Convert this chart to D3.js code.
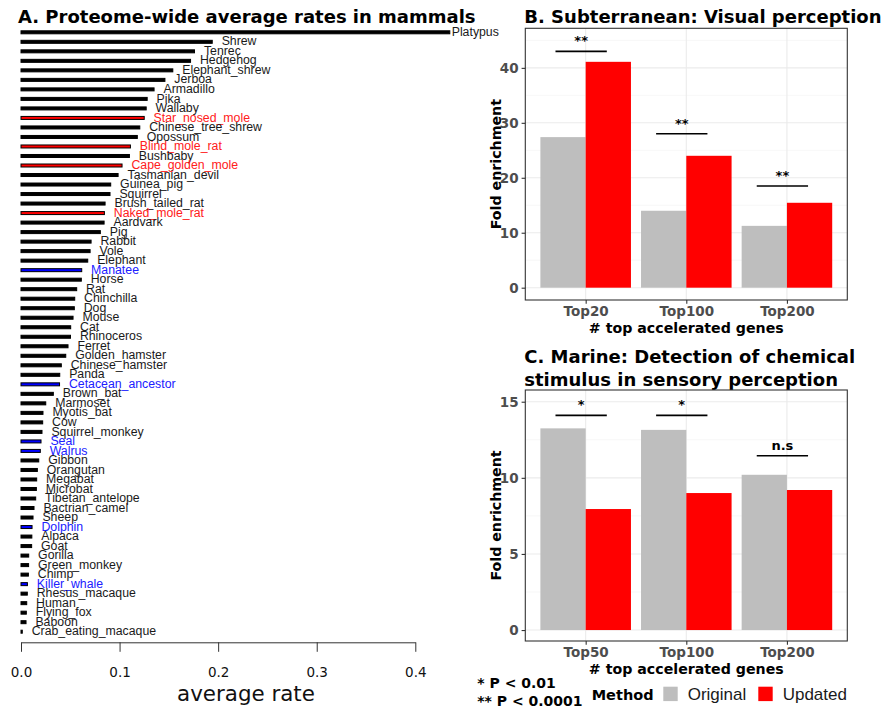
<!DOCTYPE html>
<html>
<head>
<meta charset="utf-8">
<script src="https://cdn.jsdelivr.net/npm/d3@7"></script>
<style>
  body { margin: 0; background: #fff; }
  svg { display: block; }
</style>
</head>
<body>
<svg id="fig" width="881" height="707"></svg>
<script>
// ---- Panel A: proteome-wide average rates ----
const species = [
  "Platypus","Shrew","Tenrec","Hedgehog","Elephant_shrew","Jerboa","Armadillo","Pika",
  "Wallaby","Star_nosed_mole","Chinese_tree_shrew","Opossum","Blind_mole_rat","Bushbaby",
  "Cape_golden_mole","Tasmanian_devil","Guinea_pig","Squirrel","Brush_tailed_rat",
  "Naked_mole_rat","Aardvark","Pig","Rabbit","Vole","Elephant","Manatee","Horse","Rat",
  "Chinchilla","Dog","Mouse","Cat","Rhinoceros","Ferret","Golden_hamster","Chinese_hamster",
  "Panda","Cetacean_ancestor","Brown_bat","Marmoset","Myotis_bat","Cow","Squirrel_monkey",
  "Seal","Walrus","Gibbon","Orangutan","Megabat","Microbat","Tibetan_antelope",
  "Bactrian_camel","Sheep","Dolphin","Alpaca","Goat","Gorilla","Green_monkey","Chimp",
  "Killer_whale","Rhesus_macaque","Human","Flying_fox","Baboon","Crab_eating_macaque"
];
const averageRate = [
  0.435, 0.194, 0.176, 0.172, 0.154, 0.146, 0.135, 0.128,
  0.127, 0.125, 0.1205, 0.118, 0.111, 0.110,
  0.1025, 0.0985, 0.091, 0.0903, 0.0853,
  0.0846, 0.0843, 0.0805, 0.0711, 0.0701, 0.0677, 0.0616, 0.0612, 0.0565,
  0.0545, 0.0541, 0.0528, 0.0504, 0.0502, 0.0477, 0.0454, 0.0409,
  0.0393, 0.0391, 0.0328, 0.0251, 0.0223, 0.0220, 0.0213,
  0.0203, 0.0196, 0.0180, 0.0166, 0.0159, 0.0156, 0.0149,
  0.0132, 0.0122, 0.0112, 0.0110, 0.0108, 0.0078, 0.0077, 0.0075,
  0.0065, 0.0064, 0.0058, 0.0054, 0.0051, 0.0013
];
const subterraneanSpecies = ["Star_nosed_mole","Blind_mole_rat","Cape_golden_mole","Naked_mole_rat"];
const marineSpecies = ["Manatee","Cetacean_ancestor","Seal","Walrus","Dolphin","Killer_whale"];
const rateTicks = [0, 0.1, 0.2, 0.3, 0.4];

// ---- Panel B: subterranean, visual perception ----
const visualCategories = ["Top20", "Top100", "Top200"];
const visualOriginal = [27.4, 14.0, 11.25];
const visualUpdated = [41.1, 24.0, 15.45];
const visualSigLabel = ["**", "**", "**"];
const visualSigLevel = [43.0, 28.0, 18.5];
const visualTicks = [0, 10, 20, 30, 40];
const visualMinor = [5, 15, 25, 35, 45];

// ---- Panel C: marine, chemical stimulus detection ----
const chemCategories = ["Top50", "Top100", "Top200"];
const chemOriginal = [13.25, 13.15, 10.2];
const chemUpdated = [7.95, 9.0, 9.2];
const chemSigLabel = ["*", "*", "n.s"];
const chemSigLevel = [14.1, 14.1, 11.45];
const chemTicks = [0, 5, 10, 15];
const chemMinor = [2.5, 7.5, 12.5];

const methods = ["Original", "Updated"];
const methodColor = { Original: "#BEBEBE", Updated: "#FF0000" };

const svg = d3.select("#fig");
const BOLD = "'DejaVu Sans', sans-serif";

// ===================== Panel A =====================
(function drawRates() {
  const x = d3.scaleLinear().domain([0, 0.4]).range([21, 415.3]);
  const y = d3.scalePoint().domain(species).range([32.3, 631.7]);
  const labelMaxX = 451.7; // labels stay inside the plotting region
  const colorOf = s => subterraneanSpecies.includes(s) ? "#FF0000"
                     : marineSpecies.includes(s) ? "#0000FF" : "#000000";
  const labelColorOf = s => subterraneanSpecies.includes(s) ? "#FF2020"
                     : marineSpecies.includes(s) ? "#2020FF" : "#1a1a1a";

  svg.append("text")
    .attr("x", 18).attr("y", 23)
    .attr("font-family", BOLD).attr("font-weight", "bold").attr("font-size", 18)
    .text("A. Proteome-wide average rates in mammals");

  const rows = species.map((s, i) => ({ s, v: averageRate[i] }));
  const g = svg.append("g");
  g.selectAll("rect").data(rows).join("rect")
    .attr("x", x(0))
    .attr("y", d => y(d.s) - 1.5)
    .attr("width", d => Math.max(0.5, x(d.v) - x(0)))
    .attr("height", 3)
    .attr("fill", d => colorOf(d.s))
    .attr("stroke", "#000").attr("stroke-width", 1);

  g.selectAll("text").data(rows).join("text")
    .attr("x", d => Math.min(x(d.v) + 9.4, labelMaxX))
    .attr("y", d => y(d.s) + 3.6)
    .attr("font-family", "'Liberation Sans', Arial, sans-serif")
    .attr("font-size", 12.3)
    .attr("fill", d => labelColorOf(d.s))
    .text(d => d.s);

  const axis = svg.append("g")
    .attr("transform", "translate(0,642.3)")
    .call(d3.axisBottom(x).tickValues(rateTicks).tickFormat(d3.format(".1f"))
      .tickSize(9.5).tickSizeOuter(0).tickPadding(15.6));
  axis.select(".domain").attr("stroke", "#333");
  axis.selectAll(".tick line").attr("stroke", "#333");
  axis.selectAll(".tick text")
    .attr("font-family", "'DejaVu Sans', sans-serif")
    .attr("font-size", 13.5).attr("fill", "#111");

  svg.append("text")
    .attr("x", 246).attr("y", 701)
    .attr("text-anchor", "middle")
    .attr("font-family", "'DejaVu Sans', sans-serif").attr("font-size", 21.4)
    .attr("fill", "#111")
    .text("average rate");
})();

// ===================== Panels B & C =====================
function drawEnrichment(cfg) {
  const left = 525.3, right = 847.3;
  const x = d3.scalePoint().domain(cfg.categories).range([left, right]).padding(0.6);
  const step = x.step();
  const y = d3.scaleLinear().domain(cfg.yDomain).range([cfg.bottom, cfg.top]);
  const g = svg.append("g");

  // titles
  cfg.title.forEach((line, i) => {
    g.append("text")
      .attr("x", 524.3).attr("y", cfg.titleY + i * 23)
      .attr("font-family", BOLD).attr("font-weight", "bold").attr("font-size", 18)
      .text(line);
  });

  // panel background grid
  g.selectAll(".minor").data(cfg.minor).join("line")
    .attr("x1", left).attr("x2", right)
    .attr("y1", d => y(d)).attr("y2", d => y(d))
    .attr("stroke", "#F2F2F2").attr("stroke-width", 0.6);
  g.selectAll(".major").data(cfg.ticks).join("line")
    .attr("x1", left).attr("x2", right)
    .attr("y1", d => y(d)).attr("y2", d => y(d))
    .attr("stroke", "#EBEBEB").attr("stroke-width", 1.1);
  g.selectAll(".vmajor").data(cfg.categories).join("line")
    .attr("x1", d => x(d)).attr("x2", d => x(d))
    .attr("y1", cfg.top).attr("y2", cfg.bottom)
    .attr("stroke", "#EBEBEB").attr("stroke-width", 1.1);

  // dodged bars
  const bars = [];
  cfg.categories.forEach((c, i) => {
    bars.push({ c, m: "Original", v: cfg.original[i], off: -0.45 });
    bars.push({ c, m: "Updated", v: cfg.updated[i], off: 0 });
  });
  g.selectAll(".bar").data(bars).join("rect")
    .attr("x", d => x(d.c) + d.off * step)
    .attr("width", 0.45 * step)
    .attr("y", d => y(d.v))
    .attr("height", d => y(0) - y(d.v))
    .attr("fill", d => methodColor[d.m]);

  // significance brackets
  cfg.categories.forEach((c, i) => {
    const cx = x(c) - 0.045 * step;
    const ly = y(cfg.sigLevel[i]);
    g.append("line")
      .attr("x1", cx - 0.255 * step).attr("x2", cx + 0.255 * step)
      .attr("y1", ly).attr("y2", ly)
      .attr("stroke", "#000").attr("stroke-width", 1.6);
    g.append("text")
      .attr("x", cx).attr("y", ly - 6)
      .attr("text-anchor", "middle")
      .attr("font-family", BOLD).attr("font-weight", "bold").attr("font-size", 13)
      .text(cfg.sigLabel[i]);
  });

  // panel border
  g.append("rect")
    .attr("x", left).attr("y", cfg.top)
    .attr("width", right - left).attr("height", cfg.bottom - cfg.top)
    .attr("fill", "none").attr("stroke", "#333").attr("stroke-width", 1.1);

  // axes
  const ya = g.append("g").attr("transform", `translate(${left},0)`)
    .call(d3.axisLeft(y).tickValues(cfg.ticks).tickSize(3.7).tickPadding(3));
  ya.select(".domain").remove();
  ya.selectAll(".tick line").attr("stroke", "#333").attr("stroke-width", 1.1);
  ya.selectAll(".tick text")
    .attr("font-family", BOLD).attr("font-weight", "bold").attr("font-size", 13.5)
    .attr("fill", "#4D4D4D");

  const xa = g.append("g").attr("transform", `translate(0,${cfg.bottom})`)
    .call(d3.axisBottom(x).tickSize(3.7).tickPadding(3));
  xa.select(".domain").remove();
  xa.selectAll(".tick line").attr("stroke", "#333").attr("stroke-width", 1.1);
  xa.selectAll(".tick text")
    .attr("font-family", BOLD).attr("font-weight", "bold").attr("font-size", 13.5)
    .attr("fill", "#4D4D4D");

  g.append("text")
    .attr("x", (left + right) / 2).attr("y", cfg.bottom + 33)
    .attr("text-anchor", "middle")
    .attr("font-family", BOLD).attr("font-weight", "bold").attr("font-size", 14.2)
    .text("# top accelerated genes");

  g.append("text")
    .attr("transform", `translate(500.5,${(cfg.top + cfg.bottom) / 2}) rotate(-90)`)
    .attr("text-anchor", "middle")
    .attr("font-family", BOLD).attr("font-weight", "bold").attr("font-size", 14.2)
    .text("Fold enrichment");
}

drawEnrichment({
  title: ["B. Subterranean: Visual perception"], titleY: 23,
  categories: visualCategories, original: visualOriginal, updated: visualUpdated,
  sigLabel: visualSigLabel, sigLevel: visualSigLevel,
  ticks: visualTicks, minor: visualMinor,
  yDomain: [-2.24, 47.2], top: 28.3, bottom: 300
});

drawEnrichment({
  title: ["C. Marine: Detection of chemical", "stimulus in sensory perception"], titleY: 363,
  categories: chemCategories, original: chemOriginal, updated: chemUpdated,
  sigLabel: chemSigLabel, sigLevel: chemSigLevel,
  ticks: chemTicks, minor: chemMinor,
  yDomain: [-0.72, 15.77], top: 390, bottom: 641
});

// ===================== Legend & notes =====================
const notes = ["* P < 0.01", "** P < 0.0001"];
svg.selectAll(".note").data(notes).join("text")
  .attr("x", 477.3).attr("y", (d, i) => 688 + i * 18)
  .attr("font-family", BOLD).attr("font-weight", "bold").attr("font-size", 14)
  .text(d => d);

svg.append("text")
  .attr("x", 591.7).attr("y", 700)
  .attr("font-family", BOLD).attr("font-weight", "bold").attr("font-size", 14.5)
  .text("Method");

const legendX = [663.3, 758.3];
methods.forEach((m, i) => {
  svg.append("rect")
    .attr("x", legendX[i]).attr("y", 686.7)
    .attr("width", 14.4).attr("height", 14.4)
    .attr("fill", methodColor[m]);
  svg.append("text")
    .attr("x", legendX[i] + 24.4).attr("y", 700)
    .attr("font-family", "'Liberation Sans', Arial, sans-serif").attr("font-size", 17)
    .attr("fill", "#1a1a1a")
    .text(m);
});
</script>
</body>
</html>
